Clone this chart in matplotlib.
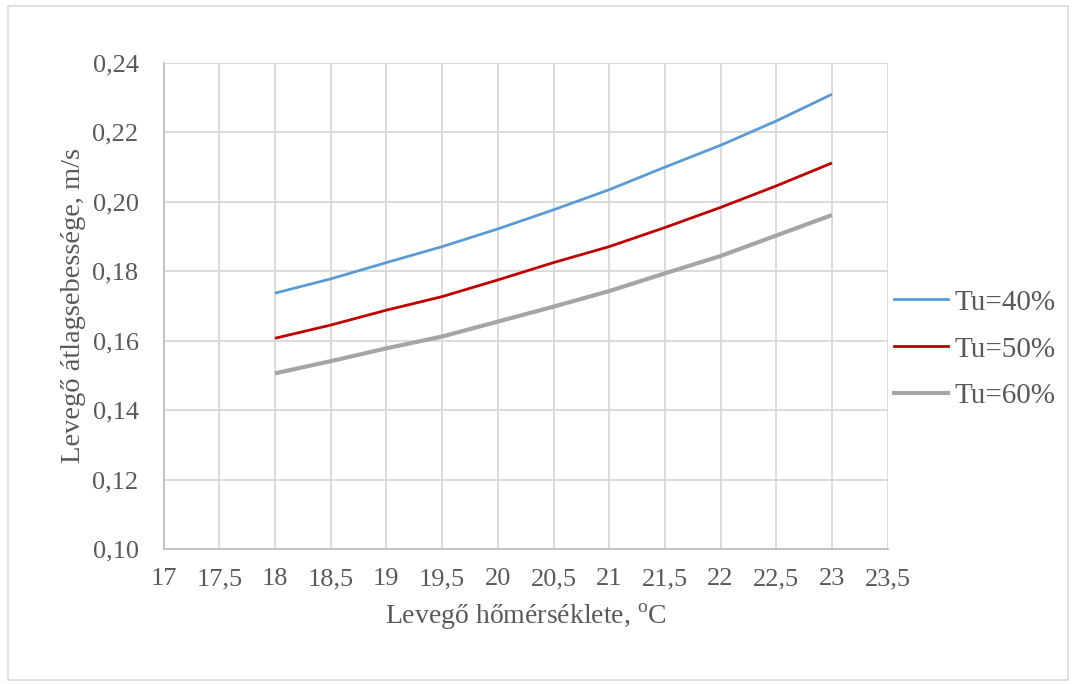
import matplotlib
matplotlib.use("Agg")
import matplotlib.pyplot as plt
from matplotlib.patches import Rectangle
from matplotlib.lines import Line2D

plt.rcParams["font.family"] = ["Liberation Serif", "DejaVu Serif"]
plt.rcParams["mathtext.fontset"] = "custom"
plt.rcParams["mathtext.rm"] = "Liberation Serif"

# Data
temp = [18, 18.5, 19, 19.5, 20, 20.5, 21, 21.5, 22, 22.5, 23]
tu40 = [0.1737, 0.1778, 0.1825, 0.1871, 0.1922, 0.1977, 0.2035, 0.2100, 0.2163, 0.2233, 0.2310]
tu50 = [0.1607, 0.1645, 0.1688, 0.1727, 0.1775, 0.1825, 0.1871, 0.1926, 0.1984, 0.2046, 0.2112]
tu60 = [0.1506, 0.1541, 0.1578, 0.1612, 0.1655, 0.1698, 0.1743, 0.1794, 0.1844, 0.1903, 0.1962]

series_names = ["Tu=40%", "Tu=50%", "Tu=60%"]
series_colors = ["#5B9BD5", "#C00000", "#A5A5A5"]
series_widths = [2.0, 2.0, 3.0]

xticks = [17, 17.5, 18, 18.5, 19, 19.5, 20, 20.5, 21, 21.5, 22, 22.5, 23, 23.5]
yticks = [0.10, 0.12, 0.14, 0.16, 0.18, 0.20, 0.22, 0.24]

txt = "#595959"
grid = "#D9D9D9"

fig = plt.figure(figsize=(10.72, 6.84), dpi=100)
ax = fig.add_axes([0.1526, 0.1974, 0.8281 - 0.1526, 0.9079 - 0.1974])

for ys, name, c, lw in zip([tu40, tu50, tu60], series_names, series_colors, series_widths):
    ax.plot(temp, ys, color=c, lw=lw, label=name, solid_capstyle="butt", zorder=3)

ax.set_xlim(17, 23.5)
ax.set_ylim(0.10, 0.24)
ax.set_xticks(xticks)
ax.set_xticklabels([f"{t:g}".replace(".", ",") for t in xticks])
ax.set_yticks(yticks)
ax.set_yticklabels([f"{t:.2f}".replace(".", ",") for t in yticks])
ax.grid(True, color=grid, lw=1.3, zorder=0)
ax.tick_params(length=0, labelsize=19, colors=txt)
ax.tick_params(axis="y", pad=18)
ax.tick_params(axis="x", pad=14)
for s in ["top", "right"]:
    ax.spines[s].set_visible(False)
for s in ["left", "bottom"]:
    ax.spines[s].set_color("#BFBFBF")
    ax.spines[s].set_linewidth(1.3)

ax.set_xlabel("Levegő hőmérséklete, $^{\\rm o}$C", fontsize=20, color=txt, labelpad=8)
ax.set_ylabel("Levegő átlagsebessége, m/s", fontsize=20.5, color=txt, labelpad=5)

handles = [Line2D([], [], color=c, lw=lw) for c, lw in zip(series_colors, series_widths)]
leg = fig.legend(handles, series_names, loc="center left", bbox_to_anchor=(0.834, 0.4893),
                 frameon=False, fontsize=21, handlelength=1.86, handletextpad=0.2,
                 labelspacing=0.7, borderpad=0, borderaxespad=0, labelcolor=txt)

fig.patches.append(Rectangle((0.007, 0.006), 0.989, 0.985, transform=fig.transFigure,
                             fill=False, edgecolor="#D9D9D9", lw=1.2))

fig.savefig("out.png", dpi=100)
